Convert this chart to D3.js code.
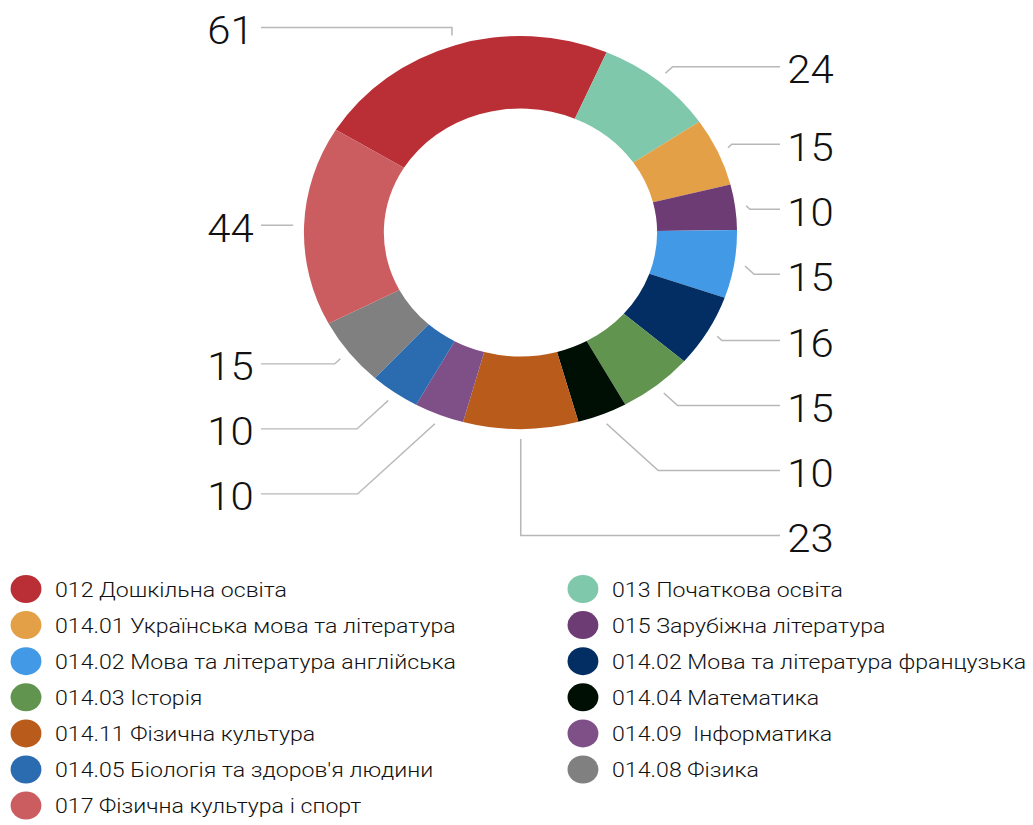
<!DOCTYPE html>
<html>
<head>
<meta charset="utf-8">
<script src="https://cdn.jsdelivr.net/npm/d3@7"></script>
<style>
    body { margin: 0; background: #fff; }
    svg { display: block; }
</style>
</head>
<body>
<svg></svg>
<script>
// Data
const categories = [
    "012 Дошкільна освіта",
    "013 Початкова освіта",
    "014.01 Українська мова та література",
    "015 Зарубіжна література",
    "014.02 Мова та література англійська",
    "014.02 Мова та література французька",
    "014.03 Історія",
    "014.04 Математика",
    "014.11 Фізична культура",
    "014.09  Інформатика",
    "014.05 Біологія та здоров'я людини",
    "014.08 Фізика",
    "017 Фізична культура і спорт"
];
const values = [61, 24, 15, 10, 15, 16, 15, 10, 23, 10, 10, 15, 44];
const colors = [
    "#b92f35", "#80c8ab", "#e4a047", "#6e3c74", "#4299e6", "#032e63", "#61954f",
    "#000f04", "#b95b1b", "#7f5087", "#2b6baf", "#7f807f", "#cb5d61"
];

function main() {
    const canvasWidth = 1033;
    const canvasHeight = 825;
    // the whole picture is a bit wider than tall, so draw in a stretched group
    const stretchX = 1.102;
    const cx = 472.3;
    const cy = 232.5;
    const outerR = 196.5;
    const innerR = 124;
    const startAngle = -58.5 * Math.PI / 180;

    let svg = d3.select("svg")
        .attr("width", canvasWidth)
        .attr("height", canvasHeight);

    let g = svg.append("g").attr("transform", `scale(${stretchX},1)`);

    let pie = d3.pie()
        .sort(null)
        .value(d => d)
        .startAngle(startAngle)
        .endAngle(startAngle + 2 * Math.PI);
    let arcs = pie(values);

    let arc = d3.arc().innerRadius(innerR).outerRadius(outerR);

    let chart = g.append("g").attr("transform", `translate(${cx},${cy})`);
    chart.selectAll("path.slice")
        .data(arcs)
        .join("path")
        .attr("class", "slice")
        .attr("d", arc)
        .attr("fill", (d, i) => colors[i]);

    // Labels: ticks start a bit outside the ring, labels sit in two columns
    const tickR = outerR + 10;
    const labelR = 215;
    const spacing = 65;
    const colX = outerR + 39;

    let labels = arcs.map((d, i) => {
        const mid = (d.startAngle + d.endAngle) / 2;
        return {
            i: i,
            mid: mid,
            side: Math.sin(mid) >= 0 ? 1 : -1,
            px: tickR * Math.sin(mid),
            py: -tickR * Math.cos(mid),
            y: -labelR * Math.cos(mid)
        };
    });

    // push labels down so they don't overlap
    [1, -1].forEach(side => {
        let list = labels.filter(l => l.side === side).sort((a, b) => a.y - b.y);
        for (let k = 1; k < list.length; k++) {
            if (list[k].y < list[k - 1].y + spacing) list[k].y = list[k - 1].y + spacing;
        }
    });

    labels.forEach(l => {
        const dy = l.y - l.py;
        let dx = Math.abs(Math.sin(l.mid)) < 0.33 ? 0 : l.side * Math.abs(dy);
        let bx = l.px + dx;
        if (l.side > 0) bx = Math.min(bx, colX); else bx = Math.max(bx, -colX);
        l.points = [[l.px, l.py], [bx, l.y], [l.side * colX, l.y]];
    });

    chart.selectAll("polyline.tick")
        .data(labels)
        .join("polyline")
        .attr("class", "tick")
        .attr("points", d => d.points.map(p => p.join(",")).join(" "))
        .attr("fill", "none")
        .attr("stroke", "#b8b8b8")
        .attr("stroke-width", 1.4);

    chart.selectAll("text.value")
        .data(labels)
        .join("text")
        .attr("class", "value")
        .attr("x", d => d.side * (colX + 6.5))
        .attr("y", d => d.y)
        .attr("dy", "0.43em")
        .attr("text-anchor", d => d.side > 0 ? "start" : "end")
        .attr("font-family", "Roboto, 'Noto Sans', sans-serif")
        .attr("font-weight", 300)
        .attr("font-size", 38)
        .attr("fill", "#111")
        .text(d => values[d.i]);

    // Legend, two columns filled row by row
    const legendTop = 589;
    const rowStep = 36.1;
    const markerX = [23.6, 529];
    const textX = [49.9, 555.4];

    let legend = g.append("g")
        .selectAll("g")
        .data(categories)
        .join("g")
        .attr("transform", (d, i) => `translate(0, ${legendTop + Math.floor(i / 2) * rowStep})`);

    legend.append("circle")
        .attr("cx", (d, i) => markerX[i % 2])
        .attr("cy", 0)
        .attr("r", 14)
        .attr("fill", (d, i) => colors[i]);

    legend.append("text")
        .attr("x", (d, i) => textX[i % 2])
        .attr("y", 0)
        .attr("dy", "0.36em")
        .attr("font-family", "Roboto, 'Noto Sans', sans-serif")
        .attr("font-weight", 300)
        .attr("font-size", 21)
        .attr("fill", "#111")
        .style("white-space", "pre")
        .text(d => d);
}

main();
</script>
</body>
</html>
